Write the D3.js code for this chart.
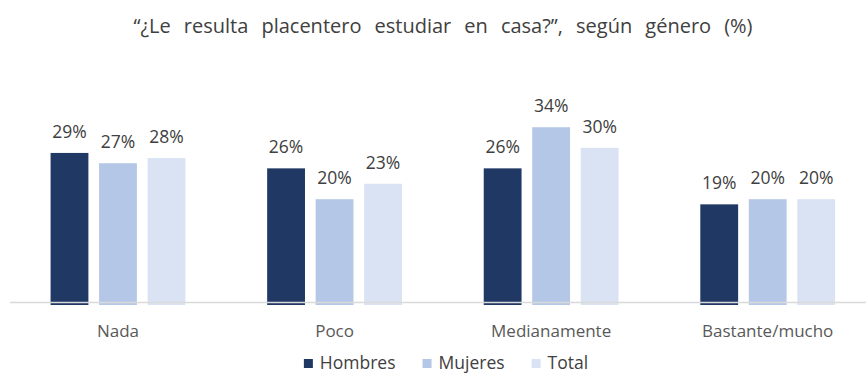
<!DOCTYPE html>
<html>
<head>
<meta charset="utf-8">
<script src="https://cdn.jsdelivr.net/npm/d3@7"></script>
<style>
  html, body { margin: 0; padding: 0; background: #fff; }
  svg { display: block; font-family: "Open Sans", "Noto Sans", sans-serif; }
</style>
</head>
<body>
<svg id="chart" width="866" height="373"></svg>
<script>
// Survey answers: how pleasant is studying at home, by gender (%)
const categories = ["Nada", "Poco", "Medianamente", "Bastante/mucho"];
const seriesNames = ["Hombres", "Mujeres", "Total"];
const hombres = [29, 26, 26, 19];
const mujeres = [27, 20, 34, 20];
const total = [28, 23, 30, 20];
const seriesColors = ["#203864", "#b4c7e7", "#dae3f3"];
const title = "“¿Le resulta placentero estudiar en casa?”, según género (%)";

const seriesValues = [hombres, mujeres, total];
const rows = categories.map((c, i) => ({
  category: c,
  values: seriesNames.map((s, j) => ({ series: s, value: seriesValues[j][i], color: seriesColors[j] }))
}));

const W = 866, H = 373;
const baseline = 302;
const svg = d3.select("#chart");

const x = d3.scaleBand().domain(categories).range([9.7, 876]).paddingInner(0).paddingOuter(0);
const xInner = d3.scaleBand().domain(seriesNames).range([0, x.bandwidth()]).paddingInner(0.22).paddingOuter(0.843);
const y = d3.scaleLinear().domain([0, 35]).range([baseline, baseline - 35 * 5.14]);

// Title, spread to its full width
const titleText = svg.append("text")
  .attr("x", 443).attr("y", 33)
  .attr("text-anchor", "middle")
  .attr("font-size", 20)
  .attr("fill", "#404040")
  .text(title);
const nSpaces = (title.match(/ /g) || []).length;
const natural = titleText.node().getComputedTextLength();
titleText.attr("word-spacing", Math.max(0, (619 - natural) / nSpaces));

// Bars
const groups = svg.append("g").selectAll("g").data(rows).join("g")
  .attr("transform", d => `translate(${x(d.category)},0)`);

groups.selectAll("rect").data(d => d.values).join("rect")
  .attr("x", d => xInner(d.series))
  .attr("width", xInner.bandwidth())
  .attr("y", d => y(d.value))
  .attr("height", d => y(0) - y(d.value) + 3)
  .attr("fill", d => d.color);

// Value labels
groups.selectAll("text").data(d => d.values).join("text")
  .attr("x", d => xInner(d.series) + xInner.bandwidth() / 2)
  .attr("y", d => y(d.value) - 15)
  .attr("text-anchor", "middle")
  .attr("font-size", 17.5)
  .attr("fill", "#404040")
  .text(d => d.value + "%");

// Category axis
const axis = svg.append("g")
  .attr("transform", `translate(0,${baseline})`)
  .call(d3.axisBottom(x).tickSize(0).tickPadding(0));
axis.select(".domain").attr("stroke", "#d9d9d9").attr("stroke-width", 1.5)
  .attr("d", `M10,0.5H${W}`);
axis.selectAll(".tick text")
  .attr("y", 34.5)
  .attr("dy", null)
  .attr("font-size", 17)
  .attr("font-family", "\"Open Sans\", sans-serif")
  .attr("fill", "#595959");

// Legend
const legend = svg.append("g");
const items = legend.selectAll("g").data(seriesNames).join("g");
items.append("rect")
  .attr("width", 9).attr("height", 9)
  .attr("y", 359)
  .attr("fill", (d, i) => seriesColors[i]);
items.append("text")
  .attr("x", 16).attr("y", 368.5)
  .attr("font-size", 17.5)
  .attr("fill", "#404040")
  .text(d => d);
let cursor = 0;
items.each(function () {
  const g = d3.select(this);
  g.attr("transform", `translate(${cursor},0)`);
  cursor += 16 + g.select("text").node().getComputedTextLength() + 27;
});
const legendWidth = cursor - 27;
legend.attr("transform", `translate(${446 - legendWidth / 2},0)`);
</script>
</body>
</html>
